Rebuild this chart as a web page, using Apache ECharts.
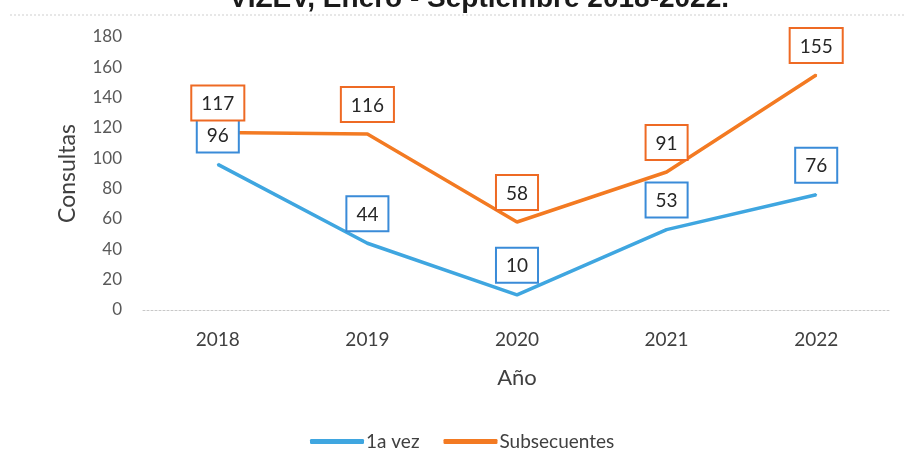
<!DOCTYPE html>
<html>
<head>
<meta charset="utf-8">
<script src="https://cdn.jsdelivr.net/npm/echarts@6/dist/echarts.min.js"></script>
<style>
html,body{margin:0;padding:0;background:#fff;}
#c{width:907px;height:475px;}
</style>
</head>
<body>
<div id="c"></div>
<script>
const years = ['2018', '2019', '2020', '2021', '2022'];
const primeraVez = [96, 44, 10, 53, 76];
const subsecuentes = [117, 116, 58, 91, 155];
const yTicks = {min: 0, max: 180, interval: 20};

const FONT = 'Lato';
const BLUE = '#3FA6E0';
const ORANGE = '#F37A22';

function labelCfg(border) {
  return {
    show: true,
    position: 'top',
    distance: 12,
    backgroundColor: '#fff',
    borderColor: border,
    borderWidth: 2,
    padding: [8, 9, 6, 9],
    fontFamily: FONT,
    fontSize: 19,
    color: '#262626'
  };
}

const chart = echarts.init(document.getElementById('c'));
chart.setOption({
  animation: false,
  backgroundColor: '#fff',
  title: {
    text: 'VIZEV, Enero - Septiembre 2018-2022.',
    left: 474,
    textAlign: 'center',
    top: -20,
    textStyle: {fontFamily: 'Liberation Sans', fontWeight: 'bold', fontSize: 28, color: '#1a1a1a'}
  },
  graphic: [{
    type: 'line',
    shape: {x1: 10, y1: 15, x2: 905, y2: 15},
    style: {stroke: '#d0d0d0', lineWidth: 1, lineDash: [2, 2]},
    silent: true
  }],
  grid: {left: 143, right: 16, top: 37, bottom: 165},
  legend: {
    bottom: 19,
    left: 305,
    itemWidth: 54,
    itemHeight: 5,
    itemGap: 24,
    icon: 'roundRect',
    textStyle: {fontFamily: FONT, fontSize: 19, color: '#404040', padding: [0, 0, 0, -3]},
    data: ['1a vez', 'Subsecuentes']
  },
  xAxis: {
    type: 'category',
    data: years,
    boundaryGap: true,
    name: 'Año',
    nameLocation: 'middle',
    nameGap: 57,
    nameTextStyle: {fontFamily: FONT, fontSize: 22, color: '#404040'},
    axisLine: {show: true, lineStyle: {color: '#c8c8c8', type: [2, 2], width: 1}},
    axisTick: {show: false},
    axisLabel: {fontFamily: FONT, fontSize: 19, color: '#404040', margin: 20}
  },
  yAxis: {
    type: 'value',
    min: yTicks.min,
    max: yTicks.max,
    interval: yTicks.interval,
    name: 'Consultas',
    nameLocation: 'middle',
    nameGap: 64,
    nameTextStyle: {fontFamily: FONT, fontSize: 23, color: '#404040'},
    axisLine: {show: false},
    axisTick: {show: false},
    splitLine: {show: false},
    axisLabel: {fontFamily: FONT, fontSize: 17, color: '#595959', margin: 21}
  },
  series: [
    {
      name: '1a vez',
      type: 'line',
      data: primeraVez,
      symbol: 'circle',
      symbolSize: 2,
      showSymbol: true,
      lineStyle: {color: BLUE, width: 3.5},
      itemStyle: {color: BLUE},
      label: labelCfg('#3A8BD8'),
      z: 2
    },
    {
      name: 'Subsecuentes',
      type: 'line',
      data: subsecuentes,
      symbol: 'circle',
      symbolSize: 2,
      showSymbol: true,
      lineStyle: {color: ORANGE, width: 3.5},
      itemStyle: {color: ORANGE},
      label: labelCfg('#EE6A24'),
      z: 2
    }
  ]
});
</script>
</body>
</html>
